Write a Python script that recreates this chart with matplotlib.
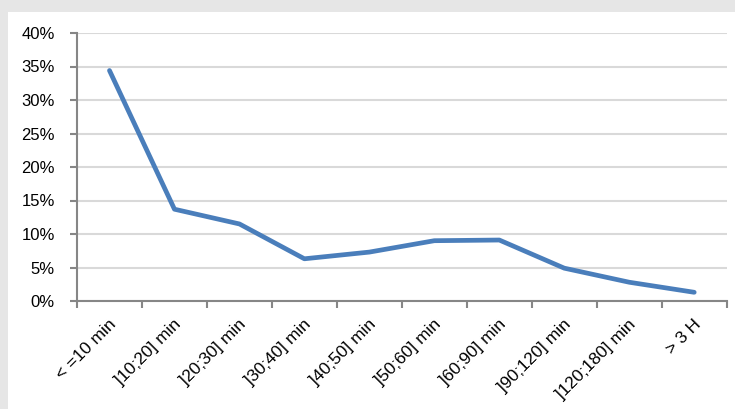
import matplotlib.pyplot as plt
import matplotlib.transforms as mtransforms
import numpy as np
from matplotlib.patches import Rectangle
from matplotlib.ticker import FuncFormatter

categories = ['< =10 min', ']10;20] min', ']20;30] min', ']30;40] min', ']40;50] min',
              ']50;60] min', ']60;90] min', ']90;120] min', ']120;180] min', '> 3 H']
share = [34.4, 13.7, 11.5, 6.3, 7.3, 9.0, 9.1, 4.9, 2.8, 1.3]  # percent

plt.rcParams['font.family'] = ['Liberation Sans', 'DejaVu Sans']

fig = plt.figure(figsize=(7.35, 4.09), dpi=100)
fig.patch.set_facecolor('#e6e6e6')
# white chart area inside the grey frame
fig.add_artist(Rectangle((8 / 735, 0), 1, 1 - 12 / 409, transform=fig.transFigure,
                         facecolor='white', edgecolor='none', zorder=-10))

ax = fig.add_axes([77 / 735, 1 - 301 / 409, (726.7 - 77) / 735, (301 - 33) / 409])
ax.set_facecolor('none')

x = np.arange(len(categories))
ax.plot(x, share, color='#4a7ebb', lw=3.4, solid_capstyle='round', solid_joinstyle='round', zorder=3)

ax.set_xlim(-0.5, len(categories) - 0.5)
ax.set_ylim(0, 40)
ax.set_yticks(np.arange(0, 41, 5))
ax.yaxis.set_major_formatter(FuncFormatter(lambda v, p: f'{v:.0f}%'))
ax.grid(axis='y', color='#d9d9d9', lw=1.5, zorder=0)
ax.set_axisbelow(True)

# category labels at centres, tick marks at boundaries
ax.set_xticks(x)
ax.set_xticklabels(categories, rotation=45, ha='right', va='center', rotation_mode='anchor')
ax.set_xticks(np.arange(-0.5, len(categories)), minor=True)
ax.tick_params(axis='x', which='major', length=0, pad=15, labelsize=12.5)
ax.tick_params(axis='x', which='minor', length=5, width=1.5, color='#868686', direction='out')
ax.tick_params(axis='y', length=5, width=1.5, color='#868686', direction='out', pad=11, labelsize=12)
shift = mtransforms.ScaledTranslation(3 / 72, 0, fig.dpi_scale_trans)
for lbl in ax.get_xticklabels():
    lbl.set_transform(lbl.get_transform() + shift)

for side in ['top', 'right']:
    ax.spines[side].set_visible(False)
for side in ['left', 'bottom']:
    ax.spines[side].set_color('#868686')
    ax.spines[side].set_linewidth(1.5)

plt.savefig('out.png', dpi=100, facecolor=fig.get_facecolor())
